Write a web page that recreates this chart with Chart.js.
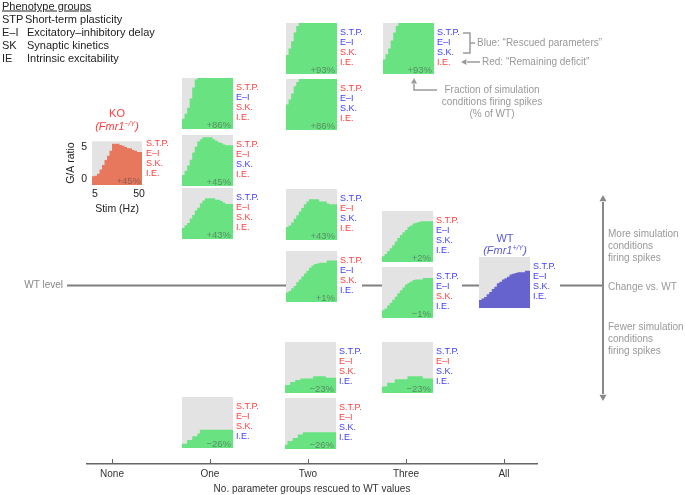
<!DOCTYPE html>
<html><head><meta charset="utf-8">
<script src="https://cdn.jsdelivr.net/npm/chart.js@4/dist/chart.umd.min.js"></script>
<style>
html,body{margin:0;padding:0;background:#fff;}
#wrap{position:relative;width:685px;height:495px;overflow:hidden;font-family:"Liberation Sans",Arial,Helvetica,sans-serif;color:#222;}
#wrap canvas{position:absolute;}
.t{position:absolute;white-space:nowrap;line-height:1;transform:translateY(-50%);}
.c{transform:translate(-50%,-50%);}
.r{transform:translate(-100%,-50%);}
.lab{font-size:9px;}
.pct{font-size:9.5px;color:rgba(70,70,70,0.55);}
.gray{color:#999;font-size:10px;}
.leg{font-size:11px;color:#222;}
sup{font-size:7px;vertical-align:4px;line-height:0;}
</style></head><body><div id="wrap"></div>
<script>
// ---------- data ----------
const rescueLevels = ['None', 'One', 'Two', 'Three', 'All'];
const phenotypeLabels = ['S.T.P.', 'E–I', 'S.K.', 'I.E.'];
const legendAbbr = ['STP', 'E–I', 'SK', 'IE'];
const legendText = ['Short-term plasticity', 'Excitatory–inhibitory delay', 'Synaptic kinetics', 'Intrinsic excitability'];
const stimTickLabels = ['5', '50'];
const gaTicks = [0, 5];

// G/A ratio per stimulation step (20 steps, 5 -> 50 Hz)
const koValues   = [0.4,0.4,0.5,0.8,1.5,2.2,3.0,3.7,4.5,5.6,5.6,5.6,5.4,5.3,5.1,4.9,4.9,4.6,4.5,4.3];
const wtValues   = [0.1,0.1,0.3,0.5,0.9,1.2,1.6,1.9,2.4,2.6,2.9,3.1,3.3,3.6,3.7,3.8,3.9,3.9,3.9,4.1];
const one86Values = [-0.1,0.4,1.1,1.9,3.2,4.7,5.8,6,6,6,6,6,6,6,6,6,6,6,6,6];
const one45Values = [0.4,0.5,1.1,1.8,2.6,3.6,4.4,5.1,5.4,5.7,5.7,5.7,5.7,5.4,5.2,5.0,4.9,4.7,4.6,4.6];
const one43Values = [0.5,0.5,0.9,1.2,1.8,2.3,2.9,3.3,3.9,4.3,4.6,4.6,4.6,4.6,4.4,4.4,4.2,4.0,3.8,3.8];
const oneM26Values = [-0.4,-0.4,-0.4,0.1,0.1,0.6,0.6,1.0,1.5,1.5,1.5,1.5,1.5,1.5,1.5,1.5,1.5,1.5,1.5,1.5];
const two93Values = [1.1,1.6,2.5,3.5,4.7,5.6,6,6,6,6,6,6,6,6,6,6,6,6,6,6];
const two86Values = [2.1,2.5,3.2,4.0,5.0,5.6,6,6,6,6,6,6,6,6,6,6,6,6,6,6];
const two43Values = [0.8,0.8,1.0,1.4,1.9,2.4,2.9,3.4,3.9,4.3,4.6,4.6,4.6,4.6,4.3,4.3,4.3,4.0,3.9,3.9];
const two1Values  = [0.1,0.3,0.5,0.9,1.2,1.7,2.1,2.5,2.9,3.3,3.7,4.0,4.2,4.3,4.4,4.4,4.4,4.7,4.7,4.7];
const twoM23Values = [0.1,0.1,0.1,0.5,0.5,0.8,0.8,1.0,1.0,1.0,1.0,1.0,1.3,1.3,1.3,1.3,1.3,1.1,1.1,1.1];
const twoM26Values = [-0.4,-0.4,0.1,0.1,0.5,0.5,1.0,1.0,1.3,1.3,1.3,1.3,1.3,1.3,1.3,1.3,1.3,1.3,1.3,1.3];
const three93Values = [0.4,1.0,1.7,2.5,3.6,4.7,5.6,6,6,6,6,6,6,6,6,6,6,6,6,6];
const three2Values  = [-0.4,-0.2,0.1,0.5,0.9,1.3,1.8,2.3,2.7,3.1,3.4,3.8,4.0,4.3,4.4,4.5,4.6,4.6,4.6,4.6];
const threeM1Values = [-0.2,0.05,0.3,0.7,1.1,1.5,1.9,2.4,2.8,3.2,3.6,3.8,4.0,4.2,4.3,4.3,4.3,4.5,4.5,4.5];
const threeM23Values = [-0.1,-0.1,-0.1,0.4,0.4,0.4,0.9,0.9,0.9,0.9,0.9,1.3,1.3,1.3,1.3,1.3,1.3,1.0,1.0,1.0];

// Which phenotype groups are rescued (1 = blue) per panel
const koRescued = [0,0,0,0];
const wtRescued = [1,1,1,1];
const one86Rescued = [0,1,0,0];
const one45Rescued = [0,0,1,0];
const one43Rescued = [1,0,0,0];
const oneM26Rescued = [0,0,0,1];
const two93Rescued = [1,1,0,0];
const two86Rescued = [0,1,1,0];
const two43Rescued = [1,0,1,0];
const two1Rescued = [0,1,0,1];
const twoM23Rescued = [1,0,0,1];
const twoM26Rescued = [0,0,1,1];
const three93Rescued = [1,1,1,0];
const three2Rescued = [0,1,1,1];
const threeM1Rescued = [1,1,0,1];
const threeM23Rescued = [1,0,1,1];

// Change vs WT (fraction of conditions firing spikes)
const koPct = '+45%';
const one86Pct = '+86%', one45Pct = '+45%', one43Pct = '+43%', oneM26Pct = '−26%';
const two93Pct = '+93%', two86Pct = '+86%', two43Pct = '+43%', two1Pct = '+1%', twoM23Pct = '−23%', twoM26Pct = '−26%';
const three93Pct = '+93%', three2Pct = '+2%', threeM1Pct = '−1%', threeM23Pct = '−23%';

// ---------- style ----------
const FONT = '"Liberation Sans", Arial, Helvetica, sans-serif';
const PANEL_BG = '#e3e3e3', GREEN = '#69e382', KO_COL = '#e8785d', WT_COL = '#6663cf';
const RED = '#ff3d3d', BLUE = '#3d3dff';
const GA_MIN = -1, GA_MAX = 6;
const PW = 51, PH = 51;
Chart.defaults.font.family = FONT;

const wrap = document.getElementById('wrap');
function txt(html, x, y, cls, style) {
  const d = document.createElement('div');
  d.className = 't ' + (cls || '');
  d.innerHTML = html;
  d.style.left = x + 'px'; d.style.top = y + 'px';
  if (style) Object.assign(d.style, style);
  wrap.appendChild(d); return d;
}
function mkCanvas(x, y, w, h) {
  const c = document.createElement('canvas');
  c.width = w; c.height = h;
  c.style.left = x + 'px'; c.style.top = y + 'px';
  c.style.width = w + 'px'; c.style.height = h + 'px';
  wrap.appendChild(c); return c;
}
function stepData(vals) {
  const pts = vals.map((v, i) => ({ x: i, y: v }));
  pts.push({ x: vals.length, y: vals[vals.length - 1] });
  return pts;
}
const panelBg = { id: 'panelBg', beforeDraw(ch) {
  const a = ch.chartArea, ctx = ch.ctx;
  ctx.save(); ctx.fillStyle = PANEL_BG;
  ctx.fillRect(a.left, a.top, a.right - a.left, a.bottom - a.top); ctx.restore();
}};

// ---------- main axis chart ----------
function arrowHead(ctx, x, y, dir, s) {
  ctx.beginPath();
  if (dir === 'up') { ctx.moveTo(x, y); ctx.lineTo(x - s, y + s * 1.8); ctx.lineTo(x + s, y + s * 1.8); }
  if (dir === 'down') { ctx.moveTo(x, y); ctx.lineTo(x - s, y - s * 1.8); ctx.lineTo(x + s, y - s * 1.8); }
  if (dir === 'left') { ctx.moveTo(x, y); ctx.lineTo(x + s * 1.8, y - s); ctx.lineTo(x + s * 1.8, y + s); }
  ctx.closePath(); ctx.fill();
}
const decor = { id: 'decor', afterDraw(ch) {
  const ctx = ch.ctx, xs = ch.scales.x;
  ctx.save();
  // tick marks above axis
  ctx.strokeStyle = '#666'; ctx.lineWidth = 1;
  rescueLevels.forEach((_, i) => {
    const x = Math.round(xs.getPixelForValue(i)) + 0.5;
    ctx.beginPath(); ctx.moveTo(x, xs.top); ctx.lineTo(x, xs.top - 5); ctx.stroke();
  });
  // WT level line
  ctx.strokeStyle = '#7f7f7f'; ctx.lineWidth = 2;
  [[67, 286], [362, 382], [462, 479], [560, 603]].forEach(s => {
    ctx.beginPath(); ctx.moveTo(s[0], 285.5); ctx.lineTo(s[1], 285.5); ctx.stroke();
  });
  // vertical change arrow
  ctx.strokeStyle = '#888'; ctx.fillStyle = '#888'; ctx.lineWidth = 2;
  ctx.beginPath(); ctx.moveTo(603, 202); ctx.lineTo(603, 394); ctx.stroke();
  arrowHead(ctx, 603, 195, 'up', 3.5); arrowHead(ctx, 603, 401, 'down', 3.5);
  // annotation bracket & arrows
  ctx.strokeStyle = '#9a9a9a'; ctx.fillStyle = '#9a9a9a'; ctx.lineWidth = 1.5;
  ctx.beginPath(); ctx.moveTo(463, 33); ctx.lineTo(470, 33); ctx.lineTo(470, 53); ctx.lineTo(463, 53); ctx.stroke();
  ctx.beginPath(); ctx.moveTo(470, 43); ctx.lineTo(475, 43); ctx.stroke();
  ctx.beginPath(); ctx.moveTo(480, 62); ctx.lineTo(467, 62); ctx.stroke();
  arrowHead(ctx, 461, 62, 'left', 3);
  ctx.beginPath(); ctx.moveTo(437, 90); ctx.lineTo(414, 90); ctx.lineTo(414, 84); ctx.stroke();
  arrowHead(ctx, 414, 78, 'up', 3);
  ctx.restore();
}};
new Chart(mkCanvas(0, 0, 685, 495), {
  type: 'scatter',
  data: { datasets: [] },
  options: {
    responsive: false, animation: false, events: [],
    layout: { padding: { left: 87, right: 148, top: 0, bottom: 0 } },
    plugins: { legend: { display: false }, tooltip: { enabled: false } },
    scales: {
      x: {
        type: 'linear', min: -0.255, max: 4.337,
        afterBuildTicks: s => { s.ticks = rescueLevels.map((_, i) => ({ value: i })); },
        afterFit: s => { s.height = 31; },
        ticks: { callback: v => rescueLevels[v], color: '#333', font: { size: 10 }, padding: 4, autoSkip: false, maxRotation: 0 },
        grid: { display: true, drawOnChartArea: false, drawTicks: false, color: 'rgba(0,0,0,0)' },
        border: { display: true, color: '#666', width: 1.5 },
        title: { display: true, text: 'No. parameter groups rescued to WT values', color: '#333', font: { size: 10 }, padding: { top: 0, bottom: 0 } }
      },
      y: { display: false, min: 0, max: 1 }
    }
  },
  plugins: [decor]
});

// ---------- panels ----------
function labels(p) {
  phenotypeLabels.forEach((t, i) => txt(t, p.left + PW + 3, p.top + 8.5 + i * 10.3, 'lab', { color: p.rescued[i] ? BLUE : RED }));
  if (p.pct) txt(p.pct, p.left + PW - 2, p.top + PH - 4.5, 'r pct');
}
function panel(p) {
  const c = mkCanvas(p.left, p.top, PW, PH);
  new Chart(c, {
    type: 'line',
    data: { datasets: [{ data: stepData(p.values), stepped: 'after', fill: 'start', backgroundColor: p.color || GREEN, borderColor: 'rgba(0,0,0,0)', borderWidth: 0, pointRadius: 0 }] },
    options: {
      responsive: false, animation: false, events: [],
      layout: { padding: 0 },
      plugins: { legend: { display: false }, tooltip: { enabled: false } },
      scales: { x: { type: 'linear', display: false, min: 0, max: p.values.length }, y: { display: false, min: GA_MIN, max: GA_MAX } }
    },
    plugins: [panelBg]
  });
  labels(p);
}

const panels = [
  { values: one86Values, rescued: one86Rescued, pct: one86Pct, left: 182, top: 78 },
  { values: one45Values, rescued: one45Rescued, pct: one45Pct, left: 182, top: 135 },
  { values: one43Values, rescued: one43Rescued, pct: one43Pct, left: 182, top: 188 },
  { values: oneM26Values, rescued: oneM26Rescued, pct: oneM26Pct, left: 182, top: 397 },
  { values: two93Values, rescued: two93Rescued, pct: two93Pct, left: 286, top: 23 },
  { values: two86Values, rescued: two86Rescued, pct: two86Pct, left: 286, top: 79 },
  { values: two43Values, rescued: two43Rescued, pct: two43Pct, left: 286, top: 189 },
  { values: two1Values, rescued: two1Rescued, pct: two1Pct, left: 286, top: 251 },
  { values: twoM23Values, rescued: twoM23Rescued, pct: twoM23Pct, left: 285, top: 342 },
  { values: twoM26Values, rescued: twoM26Rescued, pct: twoM26Pct, left: 285, top: 398 },
  { values: three93Values, rescued: three93Rescued, pct: three93Pct, left: 383, top: 23 },
  { values: three2Values, rescued: three2Rescued, pct: three2Pct, left: 382, top: 211 },
  { values: threeM1Values, rescued: threeM1Rescued, pct: threeM1Pct, left: 382, top: 267 },
  { values: threeM23Values, rescued: threeM23Rescued, pct: threeM23Pct, left: 382, top: 342 },
  { values: wtValues, rescued: wtRescued, pct: '', left: 479, top: 257, color: WT_COL }
];
panels.forEach(panel);

// KO panel with axes
(function () {
  const c = mkCanvas(65, 130, 97, 85);
  new Chart(c, {
    type: 'line',
    data: { datasets: [{ data: stepData(koValues), stepped: 'after', fill: 'start', backgroundColor: KO_COL, borderColor: 'rgba(0,0,0,0)', borderWidth: 0, pointRadius: 0 }] },
    options: {
      responsive: false, animation: false, events: [],
      layout: { padding: { top: 4, right: 20, left: 0, bottom: 0 } },
      plugins: { legend: { display: false }, tooltip: { enabled: false } },
      scales: {
        x: {
          type: 'linear', min: 0, max: koValues.length,
          afterBuildTicks: s => { s.ticks = [{ value: 1.2 }, { value: 18.8 }]; },
          afterFit: s => { s.height = 30; },
          ticks: { callback: (v, i) => stimTickLabels[i], color: '#222', font: { size: 10.5 }, padding: 3, autoSkip: false, maxRotation: 0 },
          grid: { display: false, drawTicks: false }, border: { display: false },
          title: { display: true, text: 'Stim (Hz)', color: '#222', font: { size: 10.5 }, padding: { top: 0, bottom: 0 } }
        },
        y: {
          min: GA_MIN, max: GA_MAX,
          afterBuildTicks: s => { s.ticks = gaTicks.map(v => ({ value: v })); },
          afterFit: s => { s.width = 27; },
          ticks: { color: '#222', font: { size: 10.5 }, padding: 5 },
          grid: { display: false, drawTicks: false }, border: { display: false },
          title: { display: true, text: 'G/A ratio', color: '#222', font: { size: 10.5 }, padding: { top: 0, bottom: 0 } }
        }
      }
    },
    plugins: [panelBg]
  });
  labels({ left: 92, top: 134, rescued: koRescued, pct: koPct });
  txt('KO', 117, 113, 'c', { color: RED, fontSize: '11px' });
  txt('<i>(Fmr1<sup>−/Y</sup>)</i>', 117, 125.5, 'c', { color: RED, fontSize: '11px' });
})();

// WT title
txt('WT', 505, 238, 'c', { color: '#5b5bd6', fontSize: '11px' });
txt('<i>(Fmr1<sup>+/Y</sup>)</i>', 505, 250, 'c', { color: '#5b5bd6', fontSize: '11px' });

// legend
txt('<u>Phenotype groups</u>', 2, 6, 'leg');
legendAbbr.forEach((a, i) => {
  const y = 18.5 + i * 13.3;
  txt(a, 2, y, 'leg');
  txt(legendText[i], i === 0 ? 25 : 27, y, 'leg');
});

// other annotations
txt('WT level', 63, 285, 'r gray', { color: '#888' });
txt('Blue: “Rescued parameters”', 477, 43, 'gray');
txt('Red: “Remaining deficit”', 482, 62, 'gray');
txt('Fraction of simulation', 492, 90, 'c gray');
txt('conditions firing spikes', 492, 102, 'c gray');
txt('(% of WT)', 492, 114, 'c gray');
['More simulation', 'conditions', 'firing spikes'].forEach((t, i) => txt(t, 608, 234 + i * 12, 'gray'));
txt('Change vs. WT', 608, 287, 'gray');
['Fewer simulation', 'conditions', 'firing spikes'].forEach((t, i) => txt(t, 608, 327 + i * 12, 'gray'));
</script></body></html>
